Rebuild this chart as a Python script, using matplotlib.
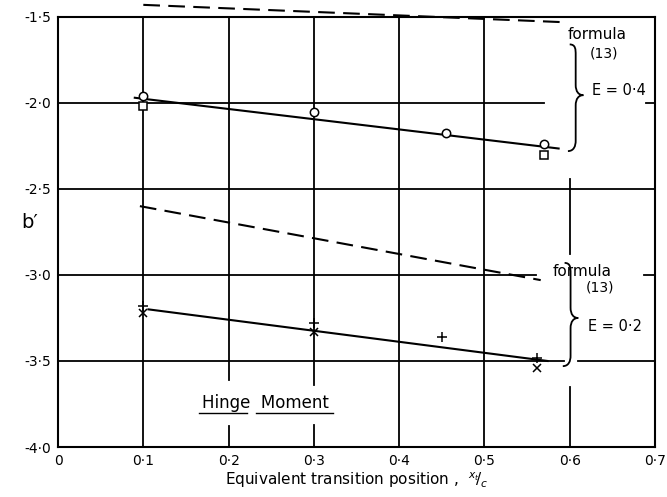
import matplotlib
matplotlib.use("Agg")
import matplotlib.pyplot as plt
from matplotlib.path import Path
from matplotlib.patches import PathPatch

# E = 0.4 measurements
e4_circle_x = [0.10, 0.30, 0.455, 0.57]
e4_circle_y = [-1.96, -2.05, -2.175, -2.24]
e4_square_x = [0.10, 0.57]
e4_square_y = [-2.02, -2.30]
e4_fit_x = [0.09, 0.587]
e4_fit_y = [-1.97, -2.265]
e4_formula_x = [0.10, 0.589]
e4_formula_y = [-1.43, -1.53]

# E = 0.2 measurements
e2_plus_x = [0.10, 0.30, 0.45, 0.562]
e2_plus_y = [-3.18, -3.28, -3.36, -3.48]
e2_cross_x = [0.10, 0.30, 0.562]
e2_cross_y = [-3.22, -3.33, -3.54]
e2_fit_x = [0.106, 0.574]
e2_fit_y = [-3.20, -3.50]
e2_formula_x = [0.096, 0.566]
e2_formula_y = [-2.60, -3.03]

xticks = [0, 0.1, 0.2, 0.3, 0.4, 0.5, 0.6, 0.7]
xlabels = ["0", "0·1", "0·2", "0·3", "0·4", "0·5", "0·6", "0·7"]
yticks = [-1.5, -2.0, -2.5, -3.0, -3.5, -4.0]
ylabels = ["-1·5", "-2·0", "-2·5", "-3·0", "-3·5", "-4·0"]

plt.rcParams['font.family'] = ['DejaVu Sans']

fig = plt.figure(figsize=(6.67, 4.97), dpi=100)
ax = fig.add_axes([0.087, 0.1006, 0.895, 0.8654])
ax.set_xlim(0, 0.7)
ax.set_ylim(-4.0, -1.5)

for s in ax.spines.values():
    s.set_linewidth(1.5)

# grid lines, broken where the hand-written notes sit
gcol = "black"
glw = 1.3
def ygrid(y, segs):
    for a, b in segs:
        ax.plot([a, b], [y, y], color=gcol, lw=glw, zorder=1)
def xgrid(x, segs):
    for a, b in segs:
        ax.plot([x, x], [a, b], color=gcol, lw=glw, zorder=1)

ygrid(-2.0, [(0, 0.57), (0.69, 0.7)])
ygrid(-2.5, [(0, 0.7)])
ygrid(-3.0, [(0, 0.56), (0.687, 0.7)])
ygrid(-3.5, [(0, 0.593), (0.61, 0.7)])
xgrid(0.1, [(-4.0, -1.5)])
xgrid(0.2, [(-4.0, -3.88), (-3.61, -1.5)])
xgrid(0.3, [(-4.0, -3.87), (-3.64, -1.5)])
xgrid(0.4, [(-4.0, -1.5)])
xgrid(0.5, [(-4.0, -1.5)])
xgrid(0.6, [(-4.0, -3.65), (-2.88, -2.44)])

# E = 0.4
ax.plot(e4_formula_x, e4_formula_y, color="black", lw=1.5, ls=(0, (8, 4)), clip_on=False)
ax.plot(e4_fit_x, e4_fit_y, color="black", lw=1.5)
ax.plot(e4_circle_x, e4_circle_y, ls="none", marker="o", ms=6, mfc="white", mec="black", mew=1.1, zorder=3)
ax.plot(e4_square_x, e4_square_y, ls="none", marker="s", ms=5.5, mfc="white", mec="black", mew=1.1, zorder=3)

# E = 0.2
ax.plot(e2_formula_x, e2_formula_y, color="black", lw=1.5, ls=(0, (8, 4)))
ax.plot(e2_fit_x, e2_fit_y, color="black", lw=1.5)
ax.plot(e2_plus_x, e2_plus_y, ls="none", marker="+", ms=7, mec="black", mew=1.1, zorder=3)
ax.plot(e2_cross_x, e2_cross_y, ls="none", marker="x", ms=5.5, mec="black", mew=1.1, zorder=3)


def brace(x, top, tip, bot, w=0.007, t=0.009, d=0.06):
    verts = [
        (x - w, top),
        (x, top), (x, top - d / 2), (x, top - d),
        (x, tip + d),
        (x, tip + d / 3), (x + t * 0.4, tip), (x + t, tip),
        (x + t * 0.4, tip), (x, tip - d / 3), (x, tip - d),
        (x, bot + d),
        (x, bot + d / 2), (x - w * 0.3, bot), (x - w * 1.3, bot),
    ]
    codes = [Path.MOVETO,
             Path.CURVE4, Path.CURVE4, Path.CURVE4,
             Path.LINETO,
             Path.CURVE4, Path.CURVE4, Path.CURVE4,
             Path.CURVE4, Path.CURVE4, Path.CURVE4,
             Path.LINETO,
             Path.CURVE4, Path.CURVE4, Path.CURVE4]
    ax.add_patch(PathPatch(Path(verts, codes), fill=False, lw=1.3, ec="black", zorder=4))


brace(0.607, -1.66, -1.955, -2.28)
brace(0.601, -2.93, -3.25, -3.53)

fs = 11
ax.text(0.597, -1.605, "formula", fontsize=fs, ha="left", va="center")
ax.text(0.624, -1.71, "(13)", fontsize=fs - 1, ha="left", va="center")
ax.text(0.626, -1.925, "E = 0·4", fontsize=fs - 0.5, ha="left", va="center")
ax.text(0.58, -2.98, "formula", fontsize=fs, ha="left", va="center")
ax.text(0.619, -3.07, "(13)", fontsize=fs - 1, ha="left", va="center")
ax.text(0.621, -3.30, "E = 0·2", fontsize=fs - 0.5, ha="left", va="center")

ax.text(0.243, -3.745, "Hinge  Moment", fontsize=12, ha="center", va="center")
ax.plot([0.165, 0.222], [-3.80, -3.80], color="black", lw=1.0)
ax.plot([0.232, 0.322], [-3.80, -3.80], color="black", lw=1.0)

ax.set_xticks(xticks)
ax.set_xticklabels(xlabels)
ax.set_yticks(yticks)
ax.set_yticklabels(ylabels)
ax.tick_params(length=0, labelsize=10, pad=5)

ax.set_xlabel("Equivalent transition position ,  $^{x_t}\\!/_{c}$", fontsize=11, labelpad=2)
ax.set_ylabel("b′", fontsize=14, rotation=0)
ax.yaxis.set_label_coords(-0.047, 0.50)

fig.savefig("out.png", dpi=100)
